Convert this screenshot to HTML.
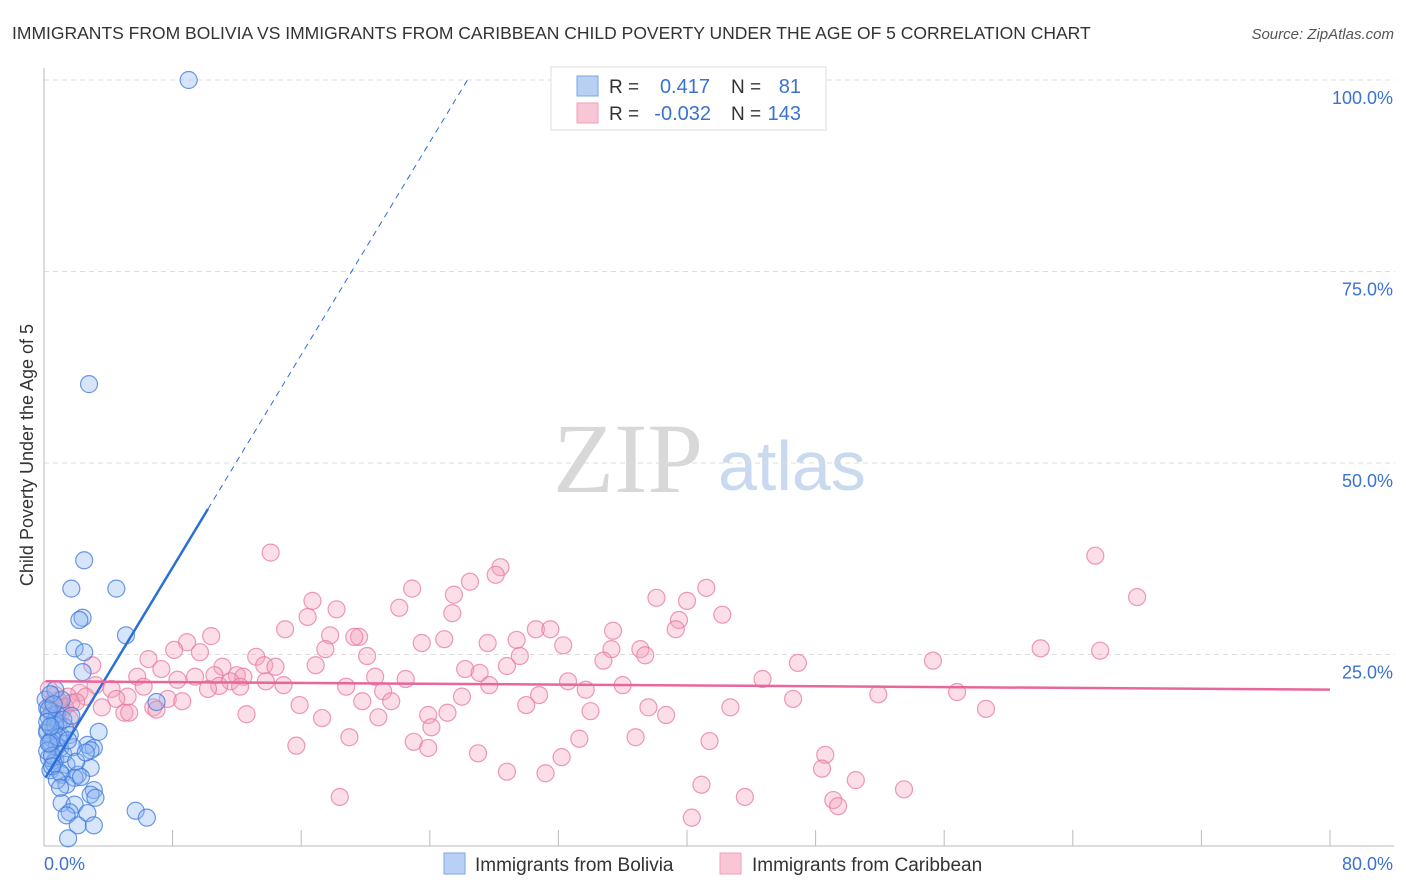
<!DOCTYPE html>
<html><head><meta charset="utf-8"><style>
body{margin:0;background:#fff;font-family:"Liberation Sans",sans-serif;}
svg{display:block}
</style></head><body>
<svg id="chart" width="1406" height="892" xmlns="http://www.w3.org/2000/svg">
<text x="12" y="39" font-size="17.5" fill="#333">IMMIGRANTS FROM BOLIVIA VS IMMIGRANTS FROM CARIBBEAN CHILD POVERTY UNDER THE AGE OF 5 CORRELATION CHART</text>
<text x="1394" y="39" font-size="15" fill="#555" text-anchor="end" font-style="italic">Source: ZipAtlas.com</text>
<text x="553" y="492" font-size="100" fill="#d8d8d8" font-family="Liberation Serif, serif">ZIP</text>
<text x="718" y="490" font-size="70" fill="#c9d9f0">atlas</text>
<text transform="translate(33,455) rotate(-90)" font-size="18" fill="#333" text-anchor="middle">Child Poverty Under the Age of 5</text>
<g id="grid"></g><g id="axes"></g><g id="pts"></g><g id="lines"></g>
<g>
<rect x="551" y="67" width="275" height="63" fill="#fff" stroke="#ddd"/>
<rect x="577" y="76" width="21" height="20" fill="#b8d0f4" stroke="#7aa6e6"/>
<rect x="577" y="103" width="21" height="20" fill="#f9c6d5" stroke="#efa0b8"/>
<text x="609" y="93" font-size="19" fill="#333">R =</text>
<text x="710" y="93" font-size="20" fill="#3a72d0" text-anchor="end">0.417</text>
<text x="731" y="93" font-size="19" fill="#333">N =</text>
<text x="801" y="93" font-size="20" fill="#3a72d0" text-anchor="end">81</text>
<text x="609" y="120" font-size="19" fill="#333">R =</text>
<text x="711" y="120" font-size="20" fill="#3a72d0" text-anchor="end">-0.032</text>
<text x="731" y="120" font-size="19" fill="#333">N =</text>
<text x="801" y="120" font-size="20" fill="#3a72d0" text-anchor="end">143</text>
</g>
<g>
<rect x="444" y="853" width="21" height="21" fill="#b8d0f4" stroke="#7aa6e6"/>
<text x="475" y="871" font-size="19" fill="#333">Immigrants from Bolivia</text>
<rect x="720" y="853" width="21" height="21" fill="#f9c6d5" stroke="#efa0b8"/>
<text x="752" y="871" font-size="19" fill="#333">Immigrants from Caribbean</text>
</g>
</svg>
<script>
const yTicks=[25,50,75,100];
const yTickLabels=["25.0%","50.0%","75.0%","100.0%"];
const xTicks=[0,8,16,24,32,40,48,56,64,72,80];
const xMinLabel="0.0%", xMaxLabel="80.0%";
const boliviaX=[9.0,2.8,2.5,1.7,4.5,2.4,2.2,5.1,1.9,2.5,2.4,7.0,1.1,0.5,0.7,0.2,1.0,1.6,3.4,0.4,1.0,2.7,3.1,2.9,0.7,1.4,0.4,2.9,1.1,2.1,1.9,1.4,3.1,2.9,3.2,1.1,1.9,1.6,2.7,1.4,2.1,3.1,1.5,5.7,6.4,0.1,0.6,0.7,0.2,0.3,0.5,0.8,1.2,0.3,0.6,0.9,0.2,0.4,1.3,0.8,0.2,0.5,1.0,0.3,0.7,1.8,0.4,0.6,1.2,0.9,0.3,0.5,2.0,1.5,0.2,0.8,2.3,1.0,0.4,2.6,1.7];
const boliviaY=[100,60.3,37.3,33.6,33.6,29.8,29.5,27.5,25.8,25.3,22.7,18.8,19.1,17.5,16.4,15.1,14.5,14.5,14.9,13.2,12.8,13.2,12.8,12.5,11.2,10.6,9.9,10.2,9.3,9.3,8.9,8.0,7.3,6.7,6.3,5.6,5.4,4.4,4.3,4.0,2.7,2.7,1.0,4.6,3.7,19.1,15.1,20.4,18.0,16.8,14.0,13.0,12.0,11.5,10.8,16.0,14.8,13.6,15.5,17.2,12.4,11.8,9.6,17.8,15.8,12.9,19.8,18.5,16.5,14.2,13.4,10.4,11.0,13.8,16.2,8.6,9.0,7.6,15.6,12.2,17.0];
const caribX=[14.1,65.4,28.4,28.1,26.5,22.9,41.2,25.5,38.1,68.0,16.7,40.0,22.1,18.2,25.4,16.4,42.2,39.5,15.0,30.6,31.5,35.4,39.3,17.8,10.4,19.6,19.3,24.9,29.4,27.6,23.5,8.9,32.3,62.0,65.7,8.1,9.7,17.5,37.1,35.3,37.4,29.6,20.1,13.2,6.5,46.9,55.3,34.8,16.9,13.7,3.0,14.4,11.1,26.2,28.8,7.3,27.1,12.0,9.4,10.6,20.6,5.8,12.4,11.6,44.7,22.5,32.6,8.3,13.8,14.9,3.2,27.7,18.8,10.9,36.0,6.2,10.2,12.2,4.2,21.1,33.7,56.8,51.9,2.2,26.0,30.8,5.2,7.7,4.5,19.8,8.6,21.6,46.6,1.5,15.9,30.0,37.6,3.6,6.8,42.7,58.6,34.0,5.0,7.0,38.7,25.1,12.6,20.8,5.3,23.9,17.3,24.1,19.0,33.3,36.8,41.4,23.0,15.7,23.9,27.0,48.6,32.2,48.4,28.8,31.2,50.5,40.9,53.5,18.4,43.6,49.1,49.4,40.3,0.7,0.4,1.0,1.7,1.1,2.6,0.3,0.9,1.3,0.5,2.0,1.6];
const caribY=[38.3,37.9,36.4,35.4,34.5,33.6,33.7,32.8,32.4,32.5,32.0,32.0,31.1,30.9,30.4,29.9,30.2,29.5,28.3,28.3,28.3,28.1,28.3,27.5,27.4,27.3,27.3,27.0,26.9,26.5,26.5,26.6,26.2,25.8,25.5,25.6,25.3,25.7,25.7,25.7,24.9,24.8,24.8,24.7,24.4,23.9,24.2,24.2,23.6,23.6,23.6,23.4,23.4,23.1,23.5,23.1,22.6,22.3,22.1,22.3,22.1,22.1,22.1,21.5,21.8,21.8,21.5,21.7,21.5,21.0,21.0,21.0,20.8,20.9,21.0,20.8,20.5,20.8,20.5,20.2,20.4,20.1,19.8,20.0,19.5,19.7,19.5,19.2,19.2,18.9,18.9,18.9,19.2,19.5,18.4,18.4,18.1,18.1,18.1,18.1,17.9,17.6,17.4,17.8,17.1,17.4,17.2,16.8,17.4,17.1,16.7,15.5,14.2,14.0,14.2,13.7,13.6,13.1,12.8,12.1,11.9,11.6,10.1,9.7,9.5,8.6,8.0,7.4,6.4,6.4,6.0,5.2,3.7,19.7,18.4,18.0,18.7,17.5,19.5,20.5,19.0,18.2,17.0,18.8,16.6];
const blueTrend=[8.6,3.47]; // intercept, slope
const pinkTrend=[21.5,-0.0135];
const blueSolidEnd=10.2;

const NS="http://www.w3.org/2000/svg";
const X0=44,X1=1330,Y0=846,Y100=80;
const sx=v=>X0+(v/80)*(X1-X0);
const sy=v=>Y0-(v/100)*(Y0-Y100);
function mk(tag,attrs,parent){const e=document.createElementNS(NS,tag);for(const k in attrs)e.setAttribute(k,attrs[k]);parent.appendChild(e);return e;}
const grid=document.getElementById('grid'),axes=document.getElementById('axes'),pts=document.getElementById('pts'),lines=document.getElementById('lines');
yTicks.forEach((t,i)=>{
  const l=mk('line',{x1:X0,x2:1395,y1:sy(t),y2:sy(t),stroke:'#ddd','stroke-dasharray':'5,4'},grid);
  
  
  const tx=mk('text',{x:1393,y:sy(t)+24,'font-size':18,fill:'#3a72d0','text-anchor':'end'},grid);
  tx.textContent=yTickLabels[i];
  
  
});
let a=mk('line',{x1:X0,x2:X0,y1:68,y2:Y0,stroke:'#bbb'},axes);


a=mk('line',{x1:X0,x2:1394,y1:Y0,y2:Y0,stroke:'#bbb'},axes);


xTicks.forEach(t=>{
  const l=mk('line',{x1:sx(t),x2:sx(t),y1:830,y2:Y0,stroke:'#bbb'},axes);
  
  
});
let t1=mk('text',{x:44,y:870,'font-size':18,fill:'#3a72d0'},axes);t1.textContent=xMinLabel;


let t2=mk('text',{x:1393,y:870,'font-size':18,fill:'#3a72d0','text-anchor':'end'},axes);t2.textContent=xMaxLabel;


caribX.forEach((x,i)=>{
  const c=mk('circle',{cx:sx(x),cy:sy(caribY[i]),r:8.5,fill:'rgba(244,160,188,0.35)',stroke:'rgba(232,120,158,0.75)','stroke-width':1.2},pts);
  
  
});
boliviaX.forEach((x,i)=>{
  const c=mk('circle',{cx:sx(x),cy:sy(boliviaY[i]),r:8.5,fill:'rgba(140,180,240,0.35)',stroke:'rgba(60,120,220,0.75)','stroke-width':1.2},pts);
  
  
});
const bEnd=(100-blueTrend[0])/blueTrend[1];
let l1=mk('line',{x1:sx(0.1),y1:sy(blueTrend[0]+0.1*blueTrend[1]),x2:sx(blueSolidEnd),y2:sy(blueTrend[0]+blueSolidEnd*blueTrend[1]),stroke:'#2a6fd6','stroke-width':2.5},lines);


let l2=mk('line',{x1:sx(blueSolidEnd),y1:sy(blueTrend[0]+blueSolidEnd*blueTrend[1]),x2:sx(bEnd),y2:sy(100),stroke:'#2a6fd6','stroke-width':1,'stroke-dasharray':'6,5'},lines);


let l3=mk('line',{x1:sx(0.1),y1:sy(pinkTrend[0]),x2:sx(80),y2:sy(pinkTrend[0]+80*pinkTrend[1]),stroke:'#e8679a','stroke-width':2.5},lines);


</script>
</body></html>
